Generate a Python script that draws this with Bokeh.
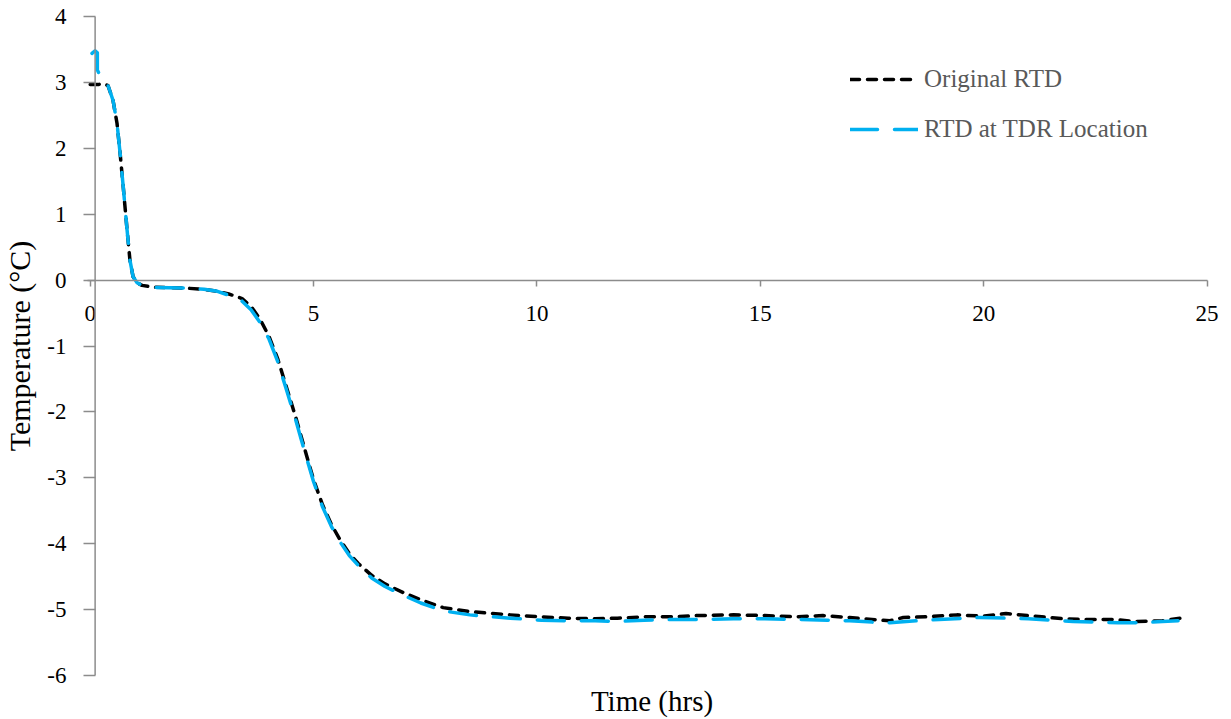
from bokeh.plotting import figure
from bokeh.models import (Range1d, Span, Legend, LegendItem, LinearAxis,
                          FixedTicker, SingleIntervalTicker, PrintfTickFormatter)
from bokeh.embed import file_html
from bokeh.resources import INLINE

# Original RTD temperature record (time in hours, temperature in °C)
orig_time = [0.0, 0.2, 0.3, 0.4, 0.51, 0.6, 0.67, 0.74, 0.82, 0.89, 0.96, 1.05,
             1.16, 1.45, 2.1, 2.55, 2.85, 3.1, 3.4, 3.6, 3.8, 4.0, 4.2, 4.4,
             4.6, 4.8, 5.0, 5.2, 5.4, 5.6, 5.8, 6.0, 6.3, 6.6, 7.0, 7.4, 7.9,
             8.5, 9.4, 10.1, 10.7, 11.3, 11.8, 12.4, 13.1, 13.6, 14.4, 15.1,
             15.8, 16.4, 17.0, 17.5, 17.9, 18.2, 18.7, 19.4, 20.0, 20.5, 21.3,
             21.8, 22.3, 22.9, 23.4, 24.0, 24.5]
orig_temp = [2.97, 2.97, 2.98, 2.95, 2.73, 2.38, 1.92, 1.41, 0.80, 0.30, 0.05,
             -0.04, -0.08, -0.11, -0.12, -0.14, -0.17, -0.21, -0.28, -0.40,
             -0.59, -0.85, -1.20, -1.64, -2.08, -2.56, -3.03, -3.41, -3.71,
             -3.95, -4.15, -4.30, -4.48, -4.61, -4.74, -4.85, -4.97, -5.03,
             -5.08, -5.11, -5.13, -5.14, -5.13, -5.11, -5.11, -5.09, -5.08,
             -5.09, -5.11, -5.09, -5.12, -5.15, -5.17, -5.12, -5.11, -5.08,
             -5.10, -5.06, -5.11, -5.14, -5.15, -5.15, -5.18, -5.17, -5.12]

# RTD at the TDR location
tdr_time = [0.04, 0.11, 0.16, 0.16, 0.27, 0.4, 0.51, 0.6, 0.67, 0.74, 0.82, 0.89,
            0.96, 1.05, 1.16, 1.45, 2.1, 2.55, 2.85, 3.1, 3.4, 3.6, 3.8, 4.0,
            4.2, 4.4, 4.6, 4.8, 5.0, 5.2, 5.4, 5.6, 5.8, 6.0, 6.3, 6.6, 7.0,
            7.4, 7.9, 8.5, 9.4, 10.1, 10.7, 11.3, 11.8, 12.4, 13.1, 13.6, 14.4,
            15.1, 15.9, 16.5, 17.0, 17.5, 17.9, 18.5, 19.0, 19.9, 20.5, 21.0,
            21.5, 22.0, 22.5, 23.0, 23.5, 24.0, 24.35]
tdr_temp = [3.44, 3.48, 3.45, 3.19, 3.03, 2.95, 2.73, 2.38, 1.92, 1.41, 0.80,
            0.30, 0.05, -0.04, -0.08, -0.11, -0.12, -0.14, -0.17, -0.23,
            -0.32, -0.45, -0.64, -0.89, -1.24, -1.68, -2.12, -2.60, -3.06,
            -3.44, -3.74, -3.98, -4.18, -4.33, -4.52, -4.65, -4.78, -4.90,
            -5.02, -5.08, -5.13, -5.16, -5.17, -5.17, -5.18, -5.16, -5.15,
            -5.15, -5.14, -5.14, -5.15, -5.16, -5.17, -5.19, -5.20, -5.17,
            -5.15, -5.12, -5.13, -5.14, -5.16, -5.18, -5.19, -5.20, -5.20,
            -5.18, -5.17]

series_labels = ["Original RTD", "RTD at TDR Location"]
x_title = "Time (hrs)"
y_title = "Temperature (°C)"

FONT = "'Liberation Serif', serif"
AXIS_GRAY = "#8c8c8c"

p = figure(width=1231, height=719, output_backend="svg", toolbar_location=None,
           x_range=Range1d(-0.15, 25.3), y_range=Range1d(-6, 4),
           min_border_left=78, min_border_right=11,
           min_border_top=16, min_border_bottom=43)
p.grid.visible = False
p.outline_line_color = None
p.background_fill_color = "white"

# horizontal axis crossing at 0 °C
xa = p.xaxis[0]
xa.fixed_location = 0
xa.bounds = (-0.07, 25)
xa.ticker = SingleIntervalTicker(interval=5)
xa.formatter = PrintfTickFormatter(format="%d")
xa.minor_tick_line_color = None
xa.major_tick_out = 6
xa.major_tick_in = 0
xa.axis_line_color = AXIS_GRAY
xa.axis_line_width = 1.5
xa.major_tick_line_color = AXIS_GRAY
xa.major_tick_line_width = 1.5
xa.major_label_standoff = 20
xa.major_label_text_font = FONT
xa.major_label_text_font_size = "23px"
xa.major_label_text_color = "black"

# title-only axis at the bottom
xt = LinearAxis(ticker=FixedTicker(ticks=[]), axis_label=x_title,
                axis_line_color=None, major_tick_line_color=None,
                minor_tick_line_color=None, major_tick_out=0, major_tick_in=0,
                major_label_standoff=0, axis_label_standoff=9,
                axis_label_text_font=FONT, axis_label_text_font_size="29px",
                axis_label_text_font_style="normal", axis_label_text_color="black")
p.add_layout(xt, "below")

ya = p.yaxis[0]
ya.ticker = SingleIntervalTicker(interval=1)
ya.formatter = PrintfTickFormatter(format="%d")
ya.axis_line_color = None
ya.minor_tick_line_color = None
ya.major_tick_out = 0
ya.major_tick_in = 12
ya.major_tick_line_color = AXIS_GRAY
ya.major_tick_line_width = 1.5
ya.major_label_standoff = 13
ya.major_label_text_font = FONT
ya.major_label_text_font_size = "23px"
ya.major_label_text_color = "black"
ya.axis_label = y_title
ya.axis_label_standoff = 8
ya.axis_label_text_font = FONT
ya.axis_label_text_font_size = "30px"
ya.axis_label_text_font_style = "normal"
ya.axis_label_text_color = "black"

# vertical axis line drawn where the axes cross
p.add_layout(Span(location=0.11, dimension="height", line_color=AXIS_GRAY,
                  line_width=1.5))

r_orig = p.line(orig_time, orig_temp, line_color="black", line_width=3.5,
                line_dash="9 8", line_cap="round", line_join="round")
r_tdr = p.line(tdr_time, tdr_temp, line_color="#00b0f0", line_width=3.5,
               line_dash="27 17", line_cap="round", line_join="round")

legend = Legend(items=[LegendItem(label=series_labels[0], renderers=[r_orig]),
                       LegendItem(label=series_labels[1], renderers=[r_tdr])],
                location=(767, 532), glyph_width=68, glyph_height=24,
                label_standoff=6, spacing=22, padding=0, margin=0,
                border_line_color=None, background_fill_alpha=0,
                label_text_font=FONT, label_text_font_size="25px",
                label_text_color="#595959")
p.add_layout(legend)

open("out.html", "w").write(file_html(p, INLINE))
